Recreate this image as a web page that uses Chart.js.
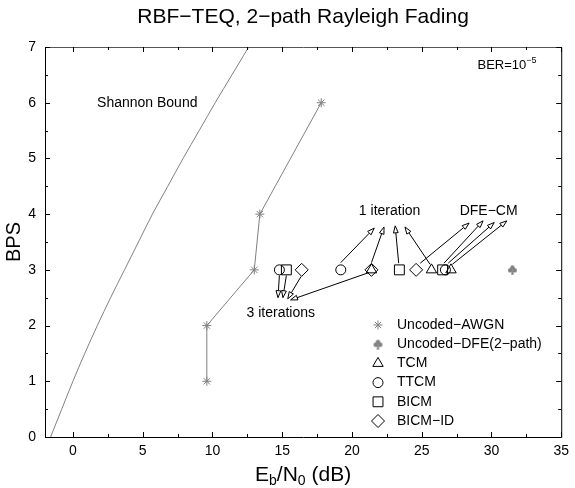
<!DOCTYPE html>
<html>
<head>
<meta charset="utf-8">
<script src="https://cdn.jsdelivr.net/npm/chart.js@4/dist/chart.umd.min.js"></script>
<style>
  html, body { margin: 0; padding: 0; background: #fff; }
  #wrap { width: 575px; height: 488px; }
</style>
</head>
<body>
<div id="wrap"><canvas id="chart"></canvas></div>
<script>
// values: Eb/N0 in dB against bits per symbol
const shannonBps = [0, 0.5, 1, 1.5, 2, 2.5, 3, 3.5, 4, 4.5, 5, 5.5, 6, 6.5, 7];
const shannonEbNo = [-1.6, -0.8, 0, 0.85, 1.75, 2.7, 3.7, 4.7, 5.7, 6.8, 7.9, 9.05, 10.2, 11.4, 12.6];

const awgnBps = [1, 2, 3, 4, 6];
const awgnEbNo = [9.6, 9.6, 13.0, 13.4, 17.8];

const dfeBps = [3];
const dfeEbNo = [31.5];

// coded schemes, every one of them sits at 3 BPS
const codedBps = [3, 3, 3];
const tcmEbNo = [21.4, 25.7, 27.1];
const ttcmEbNo = [14.8, 19.2, 26.7];
const bicmEbNo = [15.3, 23.4, 26.5];
const bicmIdEbNo = [16.4, 21.4, 24.6];

const xTicks = [0, 5, 10, 15, 20, 25, 30, 35];
const yTicks = [0, 1, 2, 3, 4, 5, 6, 7];
const xMinor = [2.5, 7.5, 12.5, 17.5, 22.5, 27.5, 32.5];
const yMinor = [0.5, 1.5, 2.5, 3.5, 4.5, 5.5, 6.5];

const FONT = '"Liberation Sans", Arial, Helvetica, sans-serif';
const GRAY = '#808080';

// arrows for the text labels, [from, to] in axis units
const arrows = [
  // 3 iterations
  [[14.8, 2.9], [14.7, 2.5]],
  [[15.3, 2.9], [15.05, 2.5]],
  [[16.35, 2.88], [15.4, 2.48]],
  [[21.2, 2.95], [15.6, 2.46]],
  // 1 iteration
  [[19.2, 3.13], [21.6, 3.75]],
  [[21.4, 3.13], [22.3, 3.77]],
  [[23.35, 3.12], [23.1, 3.79]],
  [[25.6, 3.1], [23.8, 3.77]],
  // DFE-CM
  [[24.9, 3.12], [28.4, 3.84]],
  [[26.6, 3.12], [29.4, 3.88]],
  [[26.9, 3.12], [30.2, 3.85]],
  [[27.2, 3.1], [31.1, 3.88]]
];

function toPts(xs, ys) {
  return xs.map((v, i) => ({ x: v, y: ys[i] }));
}

// club marker for the DFE point
function clubImage() {
  const c = document.createElement('canvas');
  c.width = 11; c.height = 11;
  const g = c.getContext('2d');
  g.fillStyle = GRAY;
  [[5.5, 3.2], [3.2, 6], [7.8, 6]].forEach(([cx, cy]) => {
    g.beginPath(); g.arc(cx, cy, 2.2, 0, Math.PI * 2); g.fill();
  });
  g.beginPath(); g.moveTo(5.5, 5); g.lineTo(4, 10.5); g.lineTo(7, 10.5); g.closePath(); g.fill();
  return c;
}
const club = clubImage();

function markerSet(label, xs, ys, style, r) {
  return {
    label: label,
    data: toPts(xs, ys),
    showLine: false,
    pointStyle: style,
    pointRadius: r,
    pointBorderColor: '#000',
    pointBackgroundColor: 'rgba(0,0,0,0)',
    pointBorderWidth: 1
  };
}

const datasets = [
  {
    label: 'Shannon Bound',
    data: toPts(shannonEbNo, shannonBps),
    showLine: true,
    borderColor: GRAY,
    borderWidth: 1,
    pointRadius: 0,
    cubicInterpolationMode: 'monotone',
    inLegend: false
  },
  {
    label: 'Uncoded\u2212AWGN',
    data: toPts(awgnEbNo, awgnBps),
    showLine: true,
    borderColor: GRAY,
    borderWidth: 1,
    pointStyle: 'star',
    pointRadius: 4.5,
    pointBorderColor: GRAY,
    pointBorderWidth: 1
  },
  {
    label: 'Uncoded\u2212DFE(2\u2212path)',
    data: toPts(dfeEbNo, dfeBps),
    showLine: false,
    pointStyle: club,
    pointRadius: 5
  },
  markerSet('TCM', tcmEbNo, codedBps, 'triangle', 6),
  markerSet('TTCM', ttcmEbNo, codedBps, 'circle', 5),
  markerSet('BICM', bicmEbNo, codedBps, 'rect', 7),
  markerSet('BICM\u2212ID', bicmIdEbNo, codedBps, 'rectRot', 6.5)
];

function arrow(ctx, x0, y0, x1, y1) {
  const ang = Math.atan2(y1 - y0, x1 - x0);
  const L = 7, W = 2.4;
  const bx = x1 - L * Math.cos(ang), by = y1 - L * Math.sin(ang);
  ctx.beginPath();
  ctx.moveTo(x0, y0);
  ctx.lineTo(bx, by);
  ctx.stroke();
  ctx.beginPath();
  ctx.moveTo(x1, y1);
  ctx.lineTo(bx + W * Math.sin(ang), by - W * Math.cos(ang));
  ctx.lineTo(bx - W * Math.sin(ang), by + W * Math.cos(ang));
  ctx.closePath();
  ctx.fillStyle = '#fff';
  ctx.fill();
  ctx.stroke();
}

const decorations = {
  id: 'decorations',
  afterDraw(chart) {
    const ctx = chart.ctx;
    const a = chart.chartArea;
    const xs = chart.scales.x, ys = chart.scales.y;
    ctx.save();

    // box
    ctx.lineWidth = 1;
    ctx.strokeStyle = '#000';
    ctx.beginPath();
    ctx.moveTo(a.left + 0.5, a.top + 0.5);
    ctx.lineTo(a.left + 0.5, a.bottom + 0.5);
    ctx.lineTo(a.right + 0.5, a.bottom + 0.5);
    ctx.lineTo(a.right + 0.5, a.top + 0.5);
    ctx.stroke();
    ctx.strokeStyle = '#555';
    ctx.beginPath();
    ctx.moveTo(a.left + 0.5, a.top + 0.5);
    ctx.lineTo(a.right + 0.5, a.top + 0.5);
    ctx.stroke();

    // inward ticks on all four sides
    ctx.strokeStyle = '#000';
    const xt = (vals, len) => vals.forEach(v => {
      const p = Math.round(xs.getPixelForValue(v)) + 0.5;
      ctx.beginPath();
      ctx.moveTo(p, a.bottom); ctx.lineTo(p, a.bottom - len);
      ctx.moveTo(p, a.top); ctx.lineTo(p, a.top + len);
      ctx.stroke();
    });
    const yt = (vals, len) => vals.forEach(v => {
      const p = Math.round(ys.getPixelForValue(v)) + 0.5;
      ctx.beginPath();
      ctx.moveTo(a.left, p); ctx.lineTo(a.left + len, p);
      ctx.moveTo(a.right, p); ctx.lineTo(a.right - len, p);
      ctx.stroke();
    });
    xt(xTicks, 5); xt(xMinor, 3);
    yt(yTicks, 5); yt(yMinor, 3);

    // title
    ctx.fillStyle = '#000';
    ctx.textAlign = 'center';
    ctx.textBaseline = 'alphabetic';
    ctx.font = '21px ' + FONT;
    ctx.fillText('RBF\u2212TEQ, 2\u2212path Rayleigh Fading', (a.left + a.right) / 2, 23);

    // y title
    ctx.save();
    ctx.translate(20, (a.top + a.bottom) / 2);
    ctx.rotate(-Math.PI / 2);
    ctx.font = '20px ' + FONT;
    ctx.fillText('BPS', 0, 0);
    ctx.restore();

    // x title with subscripts
    const parts = [['E', 0], ['b', 1], ['/N', 0], ['0', 1], [' (dB)', 0]];
    const big = '21px ' + FONT, small = '14px ' + FONT;
    let w = 0;
    parts.forEach(([t, s]) => { ctx.font = s ? small : big; w += ctx.measureText(t).width; });
    let cx = (a.left + a.right) / 2 - w / 2;
    const by = 481;
    ctx.textAlign = 'left';
    parts.forEach(([t, s]) => {
      ctx.font = s ? small : big;
      ctx.fillText(t, cx, s ? by + 4 : by);
      cx += ctx.measureText(t).width;
    });

    // annotations
    ctx.font = '14px ' + FONT;
    ctx.textAlign = 'left';
    ctx.textBaseline = 'middle';
    ctx.fillText('Shannon Bound', xs.getPixelForValue(1.73), ys.getPixelForValue(6.0));
    ctx.textAlign = 'center';
    ctx.fillText('1 iteration', xs.getPixelForValue(22.7), ys.getPixelForValue(4.06));
    ctx.fillText('DFE\u2212CM', xs.getPixelForValue(29.8), ys.getPixelForValue(4.06));
    ctx.fillText('3 iterations', xs.getPixelForValue(14.9), ys.getPixelForValue(2.23));

    // BER label with superscript
    ctx.textAlign = 'left';
    ctx.textBaseline = 'alphabetic';
    ctx.font = '13px ' + FONT;
    const bx = xs.getPixelForValue(29.0), byy = ys.getPixelForValue(6.6);
    ctx.fillText('BER=10', bx, byy);
    const bw = ctx.measureText('BER=10').width;
    ctx.font = '9px ' + FONT;
    ctx.fillText('\u22125', bx + bw, byy - 6);

    ctx.strokeStyle = '#000';
    ctx.lineWidth = 1;
    arrows.forEach(([f, t]) => {
      arrow(ctx, xs.getPixelForValue(f[0]), ys.getPixelForValue(f[1]),
        xs.getPixelForValue(t[0]), ys.getPixelForValue(t[1]));
    });

    // legend in the lower right corner
    const items = chart.data.datasets.filter(d => d.inLegend !== false);
    const lx = 378, ly0 = 325, step = 19.2;
    ctx.font = '14px ' + FONT;
    ctx.textAlign = 'left';
    ctx.textBaseline = 'middle';
    items.forEach((d, i) => {
      const yy = ly0 + i * step;
      ctx.strokeStyle = d.pointBorderColor || '#000';
      ctx.fillStyle = 'rgba(0,0,0,0)';
      ctx.lineWidth = 1;
      if (Chart.helpers && Chart.helpers.drawPoint) {
        Chart.helpers.drawPoint(ctx, {
          pointStyle: d.pointStyle, radius: d.pointRadius, rotation: 0, borderWidth: 1
        }, lx, yy);
      }
      ctx.fillStyle = '#000';
      ctx.fillText(d.label, 397, yy);
    });

    ctx.restore();
  }
};

new Chart(document.getElementById('chart'), {
  type: 'scatter',
  data: { datasets: datasets },
  options: {
    responsive: true,
    maintainAspectRatio: false,
    animation: false,
    layout: { padding: { top: 47, right: 9, left: 0, bottom: 0 } },
    plugins: {
      legend: { display: false },
      tooltip: { enabled: false },
      title: { display: false }
    },
    scales: {
      x: {
        type: 'linear',
        min: -2,
        max: 35,
        afterBuildTicks: s => { s.ticks = xTicks.map(v => ({ value: v })); },
        afterFit: s => { s.height = 51; },
        grid: { display: false, drawTicks: false },
        border: { display: false },
        ticks: { color: '#000', padding: 6, font: { family: FONT, size: 14 } }
      },
      y: {
        type: 'linear',
        min: 0,
        max: 7,
        afterBuildTicks: s => { s.ticks = yTicks.map(v => ({ value: v })); },
        afterFit: s => { s.width = 45; },
        grid: { display: false, drawTicks: false },
        border: { display: false },
        ticks: { color: '#000', padding: 9, font: { family: FONT, size: 14 } }
      }
    }
  },
  plugins: [decorations]
});
</script>
</body>
</html>
